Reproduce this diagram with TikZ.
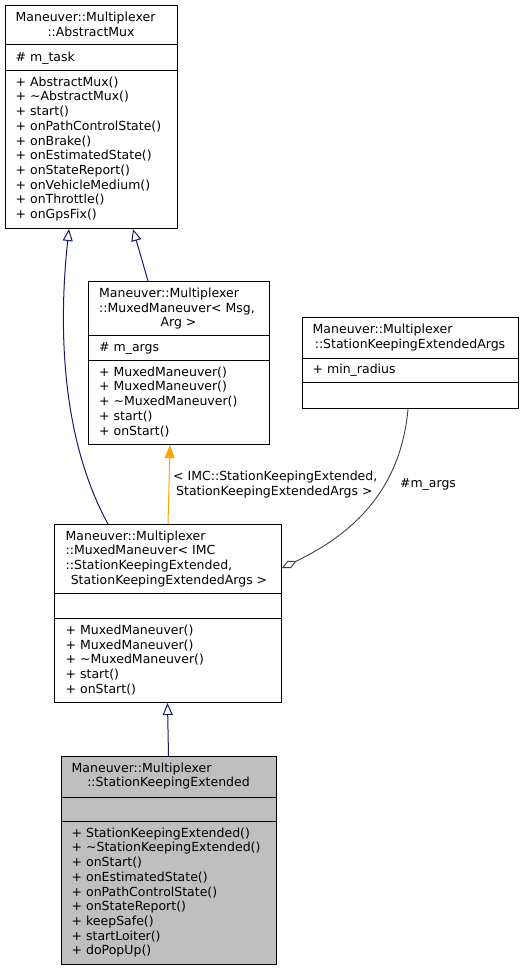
\documentclass[tikz,border=0pt]{standalone}
\usepackage{fontspec}
\setmainfont{DejaVu Sans}
\usetikzlibrary{arrows.meta,calc}
\definecolor{navy}{RGB}{25,25,112}
\definecolor{edgeorange}{RGB}{255,165,0}
\definecolor{edgegray}{RGB}{64,64,64}
\definecolor{clsgray}{RGB}{191,191,191}
\tikzset{
  classbox/.style={draw=black, line width=1pt, inner sep=0pt, anchor=north west, fill=white},
  txt/.style={inner sep=0pt, font=\fontsize{12.5}{14.7}\selectfont, align=left, anchor=base west},
  ttl/.style={inner sep=0pt, font=\fontsize{12.5}{14.7}\selectfont, anchor=base},
  divider/.style={draw=black, line width=1pt},
  inh/.style={draw=navy, line width=1pt, -{Triangle[open, length=12pt, width=10pt, fill=white]}},
  tmpl/.style={draw=edgeorange, line width=1pt, -{Triangle[length=13pt, width=10pt, fill=edgeorange]}},
  usage/.style={draw=edgegray, line width=0.9pt, -{Diamond[open, length=16pt, width=8pt, fill=white]}},
}
\begin{document}
\begin{tikzpicture}[x=1pt,y=-1pt]
\useasboundingbox (0,0) rectangle (521,971);

% Class boxes
\node[classbox, minimum width=172pt, minimum height=223pt] (A) at (5,5) {};
\node[classbox, minimum width=181pt, minimum height=163pt] (B) at (88,281) {};
\node[classbox, minimum width=216pt, minimum height=91pt] (C) at (302,317) {};
\node[classbox, minimum width=227pt, minimum height=178pt] (D) at (54,524) {};
\node[classbox, minimum width=215pt, minimum height=208pt, fill=clsgray] (E) at (61,756) {};

% Dividers
\draw[divider] (A.west |- 0,45) -- (A.east |- 0,45);
\draw[divider] (A.west |- 0,71) -- (A.east |- 0,71);
\draw[divider] (B.west |- 0,335) -- (B.east |- 0,335);
\draw[divider] (B.west |- 0,360) -- (B.east |- 0,360);
\draw[divider] (C.west |- 0,358) -- (C.east |- 0,358);
\draw[divider] (C.west |- 0,382) -- (C.east |- 0,382);
\draw[divider] (D.west |- 0,593) -- (D.east |- 0,593);
\draw[divider] (D.west |- 0,618) -- (D.east |- 0,618);
\draw[divider] (E.west |- 0,797) -- (E.east |- 0,797);
\draw[divider] (E.west |- 0,821) -- (E.east |- 0,821);

% (multi-line nodes are placed by the baseline of their LAST line)
% Box A texts
\node[txt] (A1) at (15.5,21.8) {Maneuver::Multiplexer};
\node[ttl] (A2) at (91,36.5) {::AbstractMux};
\node[txt] (A3) at (15.5,61.5) {\# m\_task};
\node[txt] (A4) at (15.5,218.5) {+ AbstractMux()\\+ \textasciitilde AbstractMux()\\+ start()\\+ onPathControlState()\\+ onBrake()\\+ onEstimatedState()\\+ onStateReport()\\+ onVehicleMedium()\\+ onThrottle()\\+ onGpsFix()};

% Box B texts
\node[txt] (B1) at (99,312.2) {Maneuver::Multiplexer\\::MuxedManeuver< Msg,};
\node[ttl] (B2) at (178.5,326.9) {Arg >};
\node[txt] (B3) at (99,351.5) {\# m\_args};
\node[txt] (B4) at (99,435) {+ MuxedManeuver()\\+ MuxedManeuver()\\+ \textasciitilde MuxedManeuver()\\+ start()\\+ onStart()};

% Box C texts
\node[txt] (C1) at (312.5,333.8) {Maneuver::Multiplexer};
\node[ttl] (C2) at (410,348.5) {::StationKeepingExtendedArgs};
\node[txt] (C3) at (312.5,373.5) {+ min\_radius};

% Box D texts
\node[txt] (D1) at (65.5,569.6) {Maneuver::Multiplexer\\::MuxedManeuver< IMC\\::StationKeepingExtended,};
\node[ttl] (D2) at (169,584.3) {StationKeepingExtendedArgs >};
\node[txt] (D4) at (65.5,693.3) {+ MuxedManeuver()\\+ MuxedManeuver()\\+ \textasciitilde MuxedManeuver()\\+ start()\\+ onStart()};

% Box E texts
\node[txt] (E1) at (71.5,772.2) {Maneuver::Multiplexer};
\node[ttl] (E2) at (168.5,786.9) {::StationKeepingExtended};
\node[txt] (E4) at (71.5,954.8) {+ StationKeepingExtended()\\+ \textasciitilde StationKeepingExtended()\\+ onStart()\\+ onEstimatedState()\\+ onPathControlState()\\+ onStateReport()\\+ keepSafe()\\+ startLoiter()\\+ doPopUp()};

% Edges
\draw[inh] ([xshift=107.5pt]E.north west) -- ([xshift=113.5pt]D.south west);
\draw[inh] ([xshift=54pt]D.north west) .. controls (62,440) and (58,330) .. ([xshift=64pt]A.south west);
\draw[inh] ([xshift=60pt]B.north west) -- ([xshift=128pt]A.south west);
\draw[tmpl] ([xshift=114pt]D.north west) -- ([xshift=82pt]B.south west);
\draw[usage] ([xshift=106pt]C.south west) .. controls (400,500) and (340,540) .. ([yshift=-44pt]D.north east);

% Edge labels
\node[txt] (L1) at (173,495) {< IMC::StationKeepingExtended,\\\hspace{3pt}StationKeepingExtendedArgs >};
\node[ttl] (L2) at (428,487.5) {\#m\_args};
\end{tikzpicture}
\end{document}
